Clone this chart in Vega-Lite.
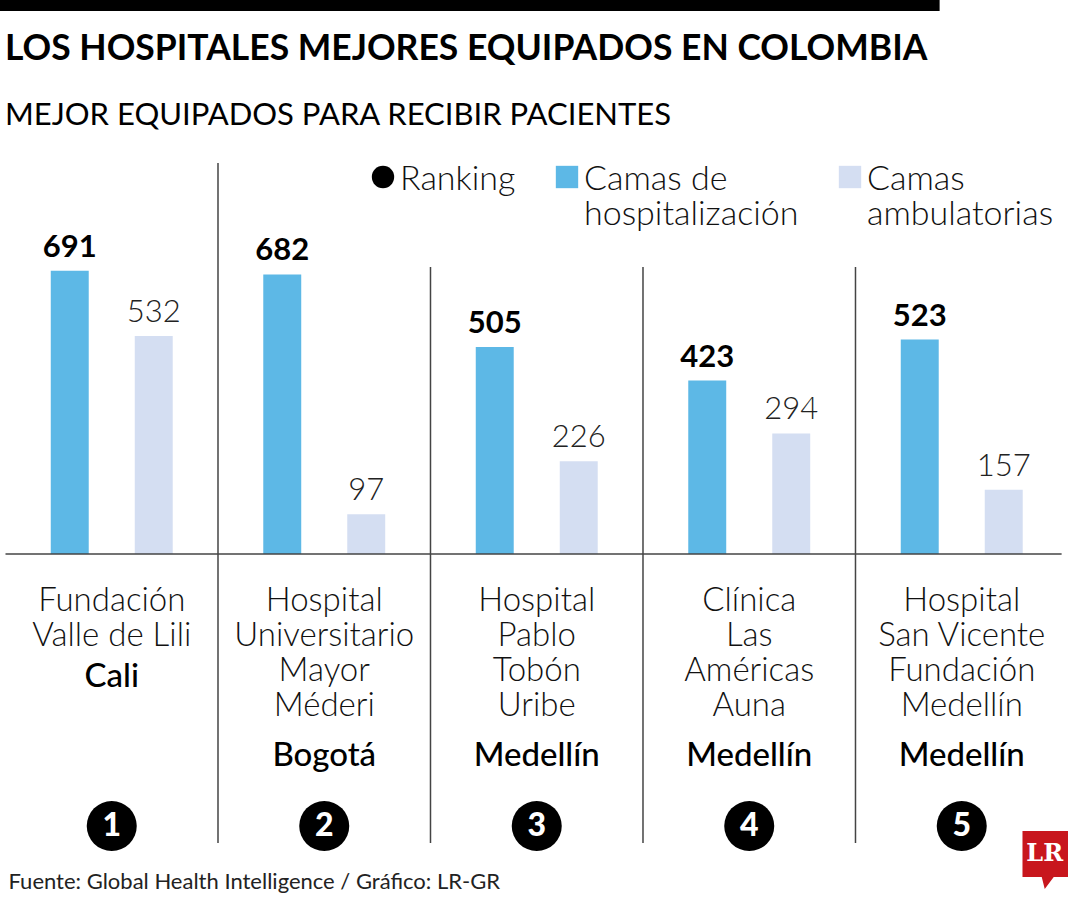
{
  "$schema": "https://vega.github.io/schema/vega-lite/v6.json",
  "width": 1080,
  "height": 860,
  "autosize": {"type": "none"},
  "padding": {"top": 0, "left": 0, "right": 0, "bottom": 40},
  "background": "white",
  "config": {"view": {"stroke": null}, "font": "Lato"},
  "title": {
    "text": "LOS HOSPITALES MEJORES EQUIPADOS EN COLOMBIA",
    "subtitle": "MEJOR EQUIPADOS PARA RECIBIR PACIENTES",
    "anchor": "start",
    "frame": "group",
    "orient": "top",
    "offset": -133,
    "dx": 5,
    "font": "Lato",
    "fontSize": 35.5,
    "fontWeight": 700,
    "color": "#000000",
    "subtitleFont": "Lato",
    "subtitleFontSize": 31,
    "subtitleFontWeight": 400,
    "subtitleColor": "#000000",
    "subtitlePadding": 33
  },
  "datasets": {
    "hospitales": [
      {"hospital": "Fundación Valle de Lili", "nombre": "Fundación\nValle de Lili", "ciudad": "Cali", "ranking": 1},
      {"hospital": "Hospital Universitario Mayor Méderi", "nombre": "Hospital\nUniversitario\nMayor\nMéderi", "ciudad": "Bogotá", "ranking": 2},
      {"hospital": "Hospital Pablo Tobón Uribe", "nombre": "Hospital\nPablo\nTobón\nUribe", "ciudad": "Medellín", "ranking": 3},
      {"hospital": "Clínica Las Américas Auna", "nombre": "Clínica\nLas\nAméricas\nAuna", "ciudad": "Medellín", "ranking": 4},
      {"hospital": "Hospital San Vicente Fundación Medellín", "nombre": "Hospital\nSan Vicente\nFundación\nMedellín", "ciudad": "Medellín", "ranking": 5}
    ],
    "camas": [
      {"hospital": "Fundación Valle de Lili", "serie": "Camas de hospitalización", "camas": 691},
      {"hospital": "Fundación Valle de Lili", "serie": "Camas ambulatorias", "camas": 532},
      {"hospital": "Hospital Universitario Mayor Méderi", "serie": "Camas de hospitalización", "camas": 682},
      {"hospital": "Hospital Universitario Mayor Méderi", "serie": "Camas ambulatorias", "camas": 97},
      {"hospital": "Hospital Pablo Tobón Uribe", "serie": "Camas de hospitalización", "camas": 505},
      {"hospital": "Hospital Pablo Tobón Uribe", "serie": "Camas ambulatorias", "camas": 226},
      {"hospital": "Clínica Las Américas Auna", "serie": "Camas de hospitalización", "camas": 423},
      {"hospital": "Clínica Las Américas Auna", "serie": "Camas ambulatorias", "camas": 294},
      {"hospital": "Hospital San Vicente Fundación Medellín", "serie": "Camas de hospitalización", "camas": 523},
      {"hospital": "Hospital San Vicente Fundación Medellín", "serie": "Camas ambulatorias", "camas": 157}
    ]
  },
  "layer": [
    {
      "data": {"name": "camas"},
      "mark": {"type": "bar"},
      "encoding": {
        "x": {
          "field": "hospital",
          "type": "nominal",
          "scale": {
            "domain": ["Fundación Valle de Lili", "Hospital Universitario Mayor Méderi", "Hospital Pablo Tobón Uribe", "Clínica Las Américas Auna", "Hospital San Vicente Fundación Medellín"],
            "paddingInner": 0,
            "paddingOuter": 0.0412,
            "align": 0.314
          },
          "axis": null
        },
        "xOffset": {
          "field": "serie",
          "type": "nominal",
          "scale": {"domain": ["Camas de hospitalización", "Camas ambulatorias"], "paddingInner": 0.548, "paddingOuter": 0.539}
        },
        "y": {
          "field": "camas",
          "type": "quantitative",
          "scale": {"domain": [-746.3, 1351.2], "nice": false, "zero": false},
          "axis": null
        },
        "color": {
          "field": "serie",
          "type": "nominal",
          "scale": {
            "domain": ["Ranking", "Camas de hospitalización", "Camas ambulatorias"],
            "range": ["#000000", "#5db8e6", "#d4def2"]
          },
          "legend": {
            "title": null,
            "orient": "none",
            "legendX": 366,
            "legendY": 160,
            "direction": "horizontal",
            "padding": 0,
            "symbolType": "square",
            "symbolSize": 500,
            "symbolStrokeWidth": 0,
            "symbolOpacity": 1,
            "labelFont": "Lato",
            "labelFontSize": 34,
            "labelFontWeight": 300,
            "labelColor": "#111111",
            "labelOffset": 0,
            "labelLimit": 400,
            "labelBaseline": "top",
            "columnPadding": 34,
            "labelExpr": "datum.label == 'Camas de hospitalización' ? ['Camas de', 'hospitalización'] : datum.label == 'Camas ambulatorias' ? ['Camas', 'ambulatorias'] : [datum.label + '   ', ' ']",
            "encoding": {
              "symbols": {
                "shape": {"condition": {"test": "datum.value === 'Ranking'", "value": "circle"}, "value": "square"}
              },
              "labels": {
                "lineHeight": {"value": 35},
                "dy": {"value": -14}
              }
            }
          }
        }
      }
    },
    {
      "data": {"values": [{}]},
      "mark": {"type": "rule", "strokeWidth": 11, "color": "#000000", "strokeCap": "square"},
      "encoding": {
        "x": {"datum": "Fundación Valle de Lili", "type": "nominal", "bandPosition": 0, "axis": null},
        "x2": {"datum": "Hospital San Vicente Fundación Medellín", "bandPosition": 0.37},
        "y": {"datum": 1337.8, "axis": null}
      }
    },
    {
      "data": {"name": "hospitales"},
      "transform": [{"filter": "datum.ranking == 2"}],
      "mark": {"type": "rule", "strokeWidth": 1.5, "color": "#444444"},
      "encoding": {
        "x": {"field": "hospital", "type": "nominal", "bandPosition": 0, "axis": null},
        "y": {"datum": 953.7, "axis": null},
        "y2": {"datum": -704.9}
      }
    },
    {
      "data": {"name": "hospitales"},
      "transform": [{"filter": "datum.ranking > 2"}],
      "mark": {"type": "rule", "strokeWidth": 1.5, "color": "#444444"},
      "encoding": {
        "x": {"field": "hospital", "type": "nominal", "bandPosition": 0, "axis": null},
        "y": {"datum": 700, "axis": null},
        "y2": {"datum": -704.9}
      }
    },
    {
      "data": {"values": [{}]},
      "mark": {"type": "rule", "strokeWidth": 1.5, "color": "#444444"},
      "encoding": {
        "x": {"datum": "Fundación Valle de Lili", "type": "nominal", "bandPosition": 0, "axis": null},
        "x2": {"datum": "Hospital San Vicente Fundación Medellín", "bandPosition": 0.97},
        "y": {"datum": 0, "axis": null}
      }
    },
    {
      "data": {"name": "camas"},
      "transform": [{"filter": "datum.serie == 'Camas de hospitalización'"}],
      "mark": {"type": "text", "font": "Lato", "fontSize": 31, "fontWeight": 700, "color": "#000000", "baseline": "alphabetic", "dy": -14},
      "encoding": {
        "x": {"field": "hospital", "type": "nominal", "axis": null},
        "xOffset": {"field": "serie", "type": "nominal"},
        "y": {"field": "camas", "type": "quantitative", "axis": null},
        "text": {"field": "camas", "type": "quantitative"}
      }
    },
    {
      "data": {"name": "camas"},
      "transform": [{"filter": "datum.serie == 'Camas ambulatorias'"}],
      "mark": {"type": "text", "font": "Lato", "fontSize": 31, "fontWeight": 300, "color": "#222222", "baseline": "alphabetic", "dy": -14},
      "encoding": {
        "x": {"field": "hospital", "type": "nominal", "axis": null},
        "xOffset": {"field": "serie", "type": "nominal"},
        "y": {"field": "camas", "type": "quantitative", "axis": null},
        "text": {"field": "camas", "type": "quantitative"}
      }
    },
    {
      "data": {"name": "hospitales"},
      "mark": {"type": "text", "font": "Lato", "fontSize": 33, "fontWeight": 300, "color": "#111111", "baseline": "top", "lineBreak": "\n", "lineHeight": 35},
      "encoding": {
        "x": {"field": "hospital", "type": "nominal", "axis": null},
        "y": {"datum": -76.5, "axis": null},
        "text": {"field": "nombre", "type": "nominal"}
      }
    },
    {
      "data": {"name": "hospitales"},
      "transform": [{"filter": "datum.ranking == 1"}],
      "mark": {"type": "text", "font": "Lato", "fontSize": 33, "fontWeight": 500, "color": "#000000", "baseline": "alphabetic"},
      "encoding": {
        "x": {"field": "hospital", "type": "nominal", "axis": null},
        "y": {"datum": -324.4, "axis": null},
        "text": {"field": "ciudad", "type": "nominal"}
      }
    },
    {
      "data": {"name": "hospitales"},
      "transform": [{"filter": "datum.ranking > 1"}],
      "mark": {"type": "text", "font": "Lato", "fontSize": 33, "fontWeight": 500, "color": "#000000", "baseline": "alphabetic"},
      "encoding": {
        "x": {"field": "hospital", "type": "nominal", "axis": null},
        "y": {"datum": -517, "axis": null},
        "text": {"field": "ciudad", "type": "nominal"}
      }
    },
    {
      "data": {"name": "hospitales"},
      "mark": {"type": "circle", "size": 2500, "opacity": 1},
      "encoding": {
        "x": {"field": "hospital", "type": "nominal", "axis": null},
        "y": {"datum": -663.4, "axis": null},
        "color": {"datum": "Ranking", "legend": null}
      }
    },
    {
      "data": {"name": "hospitales"},
      "mark": {"type": "text", "font": "Lato", "fontSize": 32, "fontWeight": 900, "color": "#ffffff", "baseline": "middle"},
      "encoding": {
        "x": {"field": "hospital", "type": "nominal", "axis": null},
        "y": {"datum": -663.4, "axis": null},
        "text": {"field": "ranking", "type": "quantitative"}
      }
    },
    {
      "data": {"values": [{"fuente": "Fuente: Global Health Intelligence / Gráfico: LR-GR"}]},
      "mark": {"type": "text", "font": "Lato", "fontSize": 22, "fontWeight": 400, "color": "#222222", "align": "left", "baseline": "alphabetic", "dx": 3},
      "encoding": {
        "x": {"datum": "Fundación Valle de Lili", "type": "nominal", "bandPosition": 0, "axis": null},
        "y": {"datum": -817, "axis": null},
        "text": {"field": "fuente", "type": "nominal"}
      }
    },
    {
      "data": {"values": [{"marca": "LR"}]},
      "mark": {"type": "point", "filled": true, "size": 4, "opacity": 1, "color": "#c8161d", "strokeWidth": 0, "shape": "M60.75 5 L106.25 5 L106.25 51 L92 51 L83 63 L80 51 L60.75 51 Z"},
      "encoding": {
        "x": {"datum": "Hospital San Vicente Fundación Medellín", "type": "nominal", "axis": null},
        "y": {"datum": -663.4, "axis": null}
      }
    },
    {
      "data": {"values": [{"marca": "LR"}]},
      "mark": {"type": "text", "font": "DejaVu Serif", "fontSize": 24, "fontWeight": 700, "color": "#ffffff", "baseline": "middle", "dx": 83, "dy": 28},
      "encoding": {
        "x": {"datum": "Hospital San Vicente Fundación Medellín", "type": "nominal", "axis": null},
        "y": {"datum": -663.4, "axis": null},
        "text": {"field": "marca", "type": "nominal"}
      }
    }
  ]
}
